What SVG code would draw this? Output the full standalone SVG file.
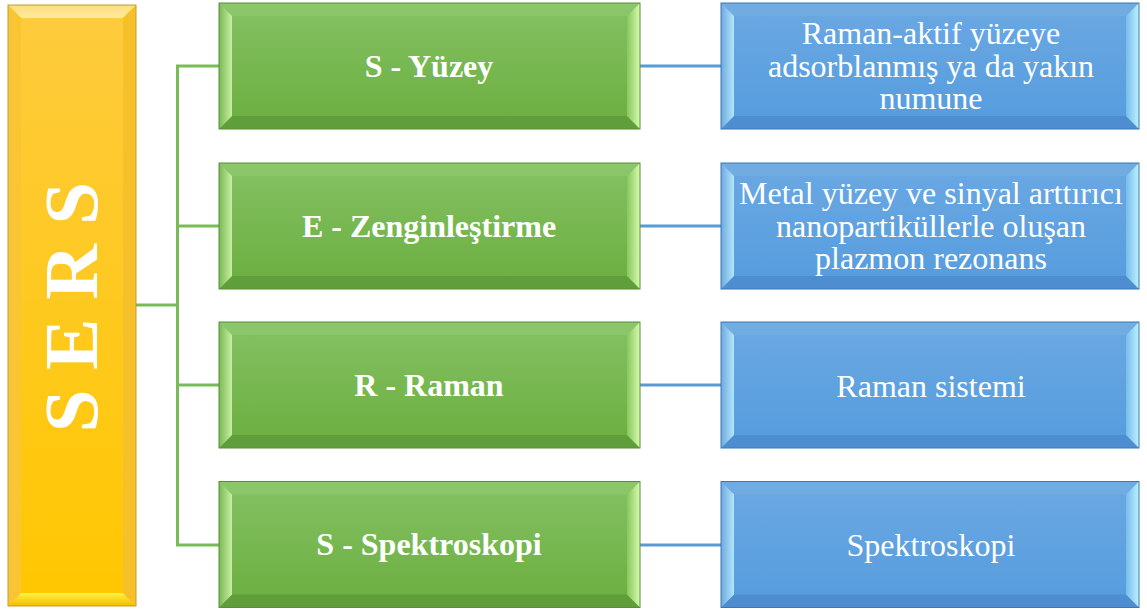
<svg xmlns="http://www.w3.org/2000/svg" xmlns:xlink="http://www.w3.org/1999/xlink" width="1147" height="609" viewBox="0 0 1147 609">
<style>
.gt{font-family:"Liberation Serif","Times New Roman",serif;font-weight:bold;font-size:32px;fill:#ffffff;text-anchor:middle}
.bt{font-family:"Liberation Serif","Times New Roman",serif;font-size:32px;fill:#ffffff;text-anchor:middle}
.st{font-family:"Liberation Serif","Times New Roman",serif;font-weight:bold;font-size:77px;fill:#ffffff;text-anchor:middle}
.gl{stroke:#79bb57;stroke-width:3;fill:none}
.bl{stroke:#5b9bd5;stroke-width:3;fill:none}
</style>
<defs>
<linearGradient id="gFace" x1="0" y1="0" x2="0" y2="1"><stop offset="0" stop-color="#84c164"/><stop offset="1" stop-color="#6bae3e"/></linearGradient>
<linearGradient id="gL" x1="0" y1="0" x2="1" y2="0"><stop offset="0" stop-color="#7bb858"/><stop offset="1" stop-color="#c6f0a0"/></linearGradient>
<linearGradient id="gR" x1="0" y1="0" x2="1" y2="0"><stop offset="0" stop-color="#88c65e"/><stop offset="1" stop-color="#d6fcae"/></linearGradient>
<linearGradient id="bFace" x1="0" y1="0" x2="0" y2="1"><stop offset="0" stop-color="#6ba8e2"/><stop offset="1" stop-color="#559cde"/></linearGradient>
<linearGradient id="bL" x1="0" y1="0" x2="1" y2="0"><stop offset="0" stop-color="#6ea9df"/><stop offset="1" stop-color="#b2e6fa"/></linearGradient>
<linearGradient id="bR" x1="0" y1="0" x2="1" y2="0"><stop offset="0" stop-color="#78bcec"/><stop offset="1" stop-color="#bcf2ff"/></linearGradient>
<linearGradient id="yFace" x1="0" y1="0" x2="0" y2="1"><stop offset="0" stop-color="#fdcb3e"/><stop offset="1" stop-color="#ffc700"/></linearGradient>
<linearGradient id="yT" x1="0" y1="0" x2="0" y2="1"><stop offset="0" stop-color="#fbe07a"/><stop offset="1" stop-color="#fde9a0"/></linearGradient>
<linearGradient id="yB" x1="0" y1="0" x2="0" y2="1"><stop offset="0" stop-color="#fff240"/><stop offset="1" stop-color="#f2bc00"/></linearGradient>
<g id="greenBox">
<rect x="0" y="0" width="421" height="126" fill="url(#gFace)"/>
<polygon points="0,0 421,0 408,13 13,13" fill="#8bc66b"/>
<polygon points="0,126 421,126 408,113 13,113" fill="#5f9e3a"/>
<polygon points="0,0 13,13 13,113 0,126" fill="url(#gL)"/>
<polygon points="421,0 408,13 408,113 421,126" fill="url(#gR)"/>
<rect x="0" y="0" width="421" height="126" fill="none" stroke="#5a8c3a" stroke-width="1"/>
</g>
<g id="blueBox">
<rect x="0" y="0" width="418" height="126" fill="url(#bFace)"/>
<polygon points="0,0 418,0 405,13 13,13" fill="#71ace1"/>
<polygon points="0,126 418,126 405,113 13,113" fill="#4e8ed0"/>
<polygon points="0,0 13,13 13,113 0,126" fill="url(#bL)"/>
<polygon points="418,0 405,13 405,113 418,126" fill="url(#bR)"/>
<rect x="0" y="0" width="418" height="126" fill="none" stroke="#3f77b3" stroke-width="1"/>
</g>
</defs>

<g id="connectors">
<polyline class="gl" points="136,305 177.5,305"/>
<polyline class="gl" points="219,66 177.5,66 177.5,545 219,545"/>
<line class="gl" x1="177.5" y1="226" x2="219" y2="226"/>
<line class="gl" x1="177.5" y1="385" x2="219" y2="385"/>
<line class="bl" x1="640" y1="66" x2="721" y2="66"/>
<line class="bl" x1="640" y1="226" x2="721" y2="226"/>
<line class="bl" x1="640" y1="385" x2="721" y2="385"/>
<line class="bl" x1="640" y1="545" x2="721" y2="545"/>
</g>

<g id="node-sers">
<rect x="8" y="5" width="128" height="601" fill="url(#yFace)"/>
<polygon points="8,5 136,5 123,18 21,18" fill="url(#yT)"/>
<polygon points="8,606 136,606 123,593 21,593" fill="url(#yB)"/>
<polygon points="8,5 21,18 21,593 8,606" fill="#f9c532"/>
<polygon points="136,5 123,18 123,593 136,606" fill="#f6c02a"/>
<rect x="8" y="5" width="128" height="601" fill="none" stroke="#c49c34" stroke-width="1"/>
<text class="st" transform="translate(97,307) rotate(-90)">S E R S</text>
</g>

<g id="node-s-yuzey">
<use xlink:href="#greenBox" x="219" y="3"/>
<text class="gt" x="429" y="76.5">S - Yüzey</text>
</g>
<g id="node-e-zenginlestirme">
<use xlink:href="#greenBox" x="219" y="163"/>
<text class="gt" x="429" y="236.5">E - Zenginleştirme</text>
</g>
<g id="node-r-raman">
<use xlink:href="#greenBox" x="219" y="322"/>
<text class="gt" x="429" y="395.5">R - Raman</text>
</g>
<g id="node-s-spektroskopi">
<use xlink:href="#greenBox" x="219" y="481.5"/>
<text class="gt" x="429" y="555">S - Spektroskopi</text>
</g>

<g id="node-desc-1">
<use xlink:href="#blueBox" x="721" y="3"/>
<text class="bt" x="931" y="44">Raman-aktif yüzeye</text>
<text class="bt" x="931" y="76.5">adsorblanmış ya da yakın</text>
<text class="bt" x="931" y="109">numune</text>
</g>
<g id="node-desc-2">
<use xlink:href="#blueBox" x="721" y="163"/>
<text class="bt" x="931" y="204">Metal yüzey ve sinyal arttırıcı</text>
<text class="bt" x="931" y="236.5">nanopartiküllerle oluşan</text>
<text class="bt" x="931" y="269">plazmon rezonans</text>
</g>
<g id="node-desc-3">
<use xlink:href="#blueBox" x="721" y="322"/>
<text class="bt" x="931" y="396.5">Raman sistemi</text>
</g>
<g id="node-desc-4">
<use xlink:href="#blueBox" x="721" y="481.5"/>
<text class="bt" x="931" y="555.5">Spektroskopi</text>
</g>
</svg>
